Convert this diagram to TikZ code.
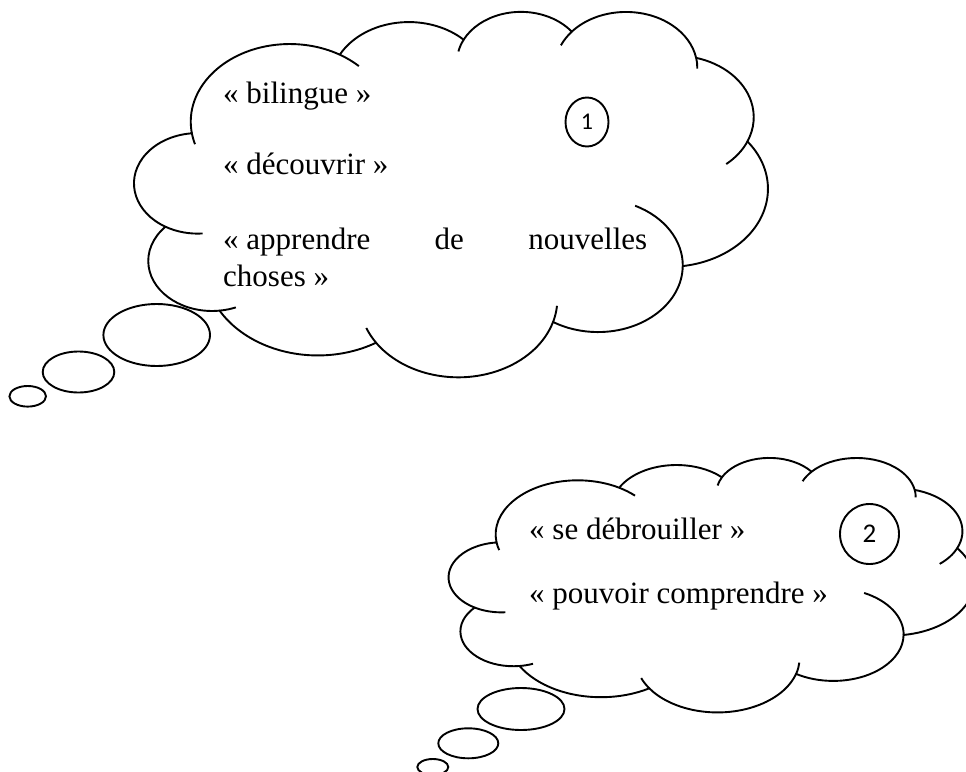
\documentclass[tikz,border=0pt]{standalone}
\usepackage{fontspec}
\setmainfont{Liberation Serif}
\newfontfamily\digitfont{Carlito}
\usetikzlibrary{positioning}
\usetikzlibrary{shapes.geometric}
\tikzset{
    puff/.style={draw, line width=1.9pt, line join=round},
    word/.style={anchor=base west, inner sep=0pt, font=\fontsize{31}{37}\selectfont},
    bubble/.style={draw, ellipse, line width=1.9pt, inner sep=0pt},
    tag/.style={bubble, font=\digitfont\fontsize{24}{28}\selectfont}
}
% cloud outline in a 432 x 432 box, screen angles (y down)
\newcommand{\cloudbody}[1]{%
    \draw[puff] (39,143.7) coordinate (#1-j0)
        arc[start angle=-187.75, delta angle=128.12, x radius=67.53, y radius=91.90] coordinate (#1-j1)
        arc[start angle=-152.03, delta angle=106.57, x radius=53.33, y radius=72.67] coordinate (#1-j2)
        arc[start angle=-153.49, delta angle=116.16, x radius=43.65, y radius=59.45] coordinate (#1-j3)
        arc[start angle=-139.71, delta angle=129.50, x radius=48.57, y radius=65.95] coordinate (#1-j4)
        arc[start angle=-74.77, delta angle=97.98, x radius=53.33, y radius=72.73] coordinate (#1-j5)
        arc[start angle=-37.52, delta angle=119.38, x radius=67.75, y radius=92.20] coordinate (#1-j6)
        arc[start angle=0.46, delta angle=121.52, x radius=57.85, y radius=78.67] coordinate (#1-j7)
        arc[start angle=16.84, delta angle=129.39, x radius=67.52, y radius=92.15] coordinate (#1-j8)
        arc[start angle=58.99, delta angle=91.19, x radius=77.20, y radius=105.43] coordinate (#1-j9)
        arc[start angle=83.31, delta angle=139.78, x radius=43.60, y radius=59.18] coordinate (#1-j10)
        arc[start angle=120.35, delta angle=143.76, x radius=43.45, y radius=59.45] -- cycle;
    \draw[puff] (#1-j0) arc[start angle=172.25, delta angle=-9.06, x radius=67.53, y radius=91.90];
    \draw[puff] (#1-j1) arc[start angle=-59.63, delta angle=13.89, x radius=67.53, y radius=91.90];
    \draw[puff] (#1-j2) arc[start angle=-153.49, delta angle=-14.24, x radius=43.65, y radius=59.45];
    \draw[puff] (#1-j3) arc[start angle=-139.71, delta angle=-16.58, x radius=48.57, y radius=65.95];
    \draw[puff] (#1-j4) arc[start angle=-10.21, delta angle=11.03, x radius=48.57, y radius=65.95];
    \draw[puff] (#1-j5) arc[start angle=23.21, delta angle=26.44, x radius=53.33, y radius=72.73];
    \draw[puff] (#1-j6) arc[start angle=0.46, delta angle=-64.49, x radius=57.85, y radius=78.67];
    \draw[puff] (#1-j7) arc[start angle=16.84, delta angle=-12.10, x radius=67.52, y radius=92.15];
    \draw[puff] (#1-j8) arc[start angle=146.23, delta angle=12.24, x radius=67.52, y radius=92.15];
    \draw[puff] (#1-j9) arc[start angle=83.31, delta angle=-15.07, x radius=43.60, y radius=59.18];
    \draw[puff] (#1-j10) arc[start angle=120.35, delta angle=-34.80, x radius=43.45, y radius=59.45];
}

\begin{document}
\begin{tikzpicture}[x=1pt, y=1pt]
    \useasboundingbox (0,0) rectangle (966,-771);
    \clip (0,0) rectangle (966,-771);

    \begin{scope}[shift={(134.5,-10.7)}, xscale=1.4657, yscale=-0.8456]
        \cloudbody{first}
    \end{scope}

    \path (223,-103) node[word] (bilingue) {«~bilingue~»}
        ++(0,-71) node[word] (decouvrir) {«~découvrir~»}
        ++(0,-75) node[word, text width=424pt, align=justify] (apprendre)
            {\mbox{«~apprendre}\ de nouvelles\linebreak choses~»};
    \node[tag, minimum width=43pt, minimum height=49pt] (num1) at (587,-122) {1};

    \node[bubble, minimum width=106.6pt, minimum height=62pt] (tail1a) at (156.7,-335) {};
    \node[bubble, minimum width=71.6pt, minimum height=41pt] (tail1b) at (78.5,-372) {};
    \node[bubble, minimum width=36.6pt, minimum height=20.6pt] (tail1c) at (27.7,-396.3) {};

    \begin{scope}[shift={(449,-457.1)}, xscale=1.2153, yscale=-0.5889]
        \cloudbody{second}
    \end{scope}

    \path (529,-539) node[word] (debrouiller) {«~se débrouiller~»}
        ++(0,-64) node[word] (comprendre) {«~pouvoir comprendre~»};
    \node[tag, minimum width=59pt, minimum height=60pt,
        font=\digitfont\fontsize{27}{32}\selectfont] (num2) at (869.5,-534) {2};

    \node[bubble, minimum width=87pt, minimum height=42pt] (tail2a) at (521,-709) {};
    \node[bubble, minimum width=60pt, minimum height=30pt] (tail2b) at (468.3,-743.3) {};
    \node[bubble, minimum width=31pt, minimum height=16pt] (tail2c) at (432.8,-767) {};
\end{tikzpicture}
\end{document}
